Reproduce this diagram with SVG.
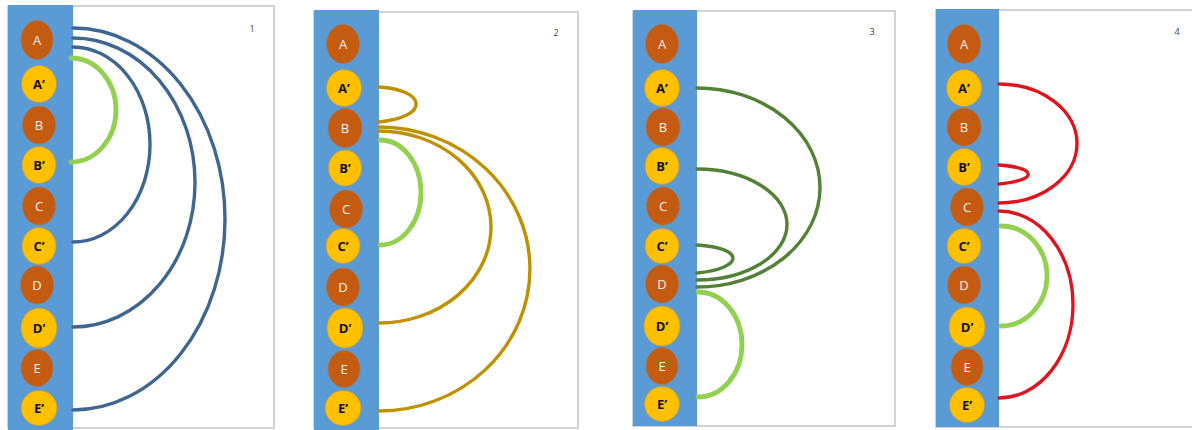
<svg xmlns="http://www.w3.org/2000/svg" width="1192" height="430" viewBox="0 0 1192 430">
<style>
.frame{fill:#ffffff;stroke:#c3c3c3;stroke-width:1.5}
.bar{fill:#5b9bd5}
.o{fill:#c55a11;stroke:#9a7b5a;stroke-width:0.8}
.y{fill:#ffc000;stroke:#b89a55;stroke-width:0.8}
.tw{font-family:"Open Sans","Liberation Sans",sans-serif;font-size:13px;fill:#f4f0ea;text-anchor:middle}
.tb{font-family:"Open Sans","Liberation Sans",sans-serif;font-size:13px;font-weight:bold;fill:#111111;text-anchor:middle}
.num{font-family:"Open Sans","Liberation Sans",sans-serif;font-size:9px;fill:#404040;text-anchor:middle}
.c{fill:none;stroke-width:3.4;stroke-linecap:round}
.blue{stroke:#3f6690}
.gold{stroke:#bf9000}
.dg{stroke:#538135}
.red{stroke:#e0141c}
.lg{stroke:#92d050;stroke-width:4.8}
</style>
<rect width="1192" height="430" fill="#ffffff"/>
<g id="frames">
<rect class="frame" x="8" y="6" width="266" height="422"/>
<rect class="bar" x="8" y="5" width="65" height="425"/>
<rect class="frame" x="314" y="12" width="264" height="416"/>
<rect class="bar" x="314" y="10" width="65" height="420"/>
<rect class="frame" x="633" y="11" width="262" height="415"/>
<rect class="bar" x="633" y="10" width="64" height="416"/>
<rect class="frame" x="936" y="10" width="270" height="417"/>
<rect class="bar" x="936" y="9" width="63" height="418"/>
</g>
<g id="labels">
<text class="num" x="252" y="32">1</text>
<text class="num" x="556" y="36">2</text>
<text class="num" x="872" y="35">3</text>
<text class="num" x="1177" y="35">4</text>
</g>
<g id="connectors">
<path class="c blue" d="M73 28 A152 191 0 0 1 73 410"/>
<path class="c blue" d="M73 38 A122 144.5 0 0 1 73 327"/>
<path class="c blue" d="M73 47 A77 97.5 0 0 1 73 242"/>
<path class="c lg" d="M71 58 A45 52 0 0 1 71 162"/>
<path class="c gold" d="M379 87 C427 90 430 117 379 122"/>
<path class="c gold" d="M379 127 A151 142 0 0 1 379 411"/>
<path class="c gold" d="M379 131 A112 96 0 0 1 379 323"/>
<path class="c lg" d="M380 140 A41 52.5 0 0 1 380 245"/>
<path class="c dg" d="M697 88 A123 99.5 0 0 1 697 287"/>
<path class="c dg" d="M697 169 A90 55.5 0 0 1 697 280"/>
<path class="c dg" d="M697 245 C745 248 745 268 697 273"/>
<path class="c lg" d="M698 292 A44 52.5 0 0 1 698 397"/>
<path class="c red" d="M999 84 A78 59.5 0 0 1 999 203"/>
<path class="c red" d="M999 165 C1038 168 1038 180 999 184"/>
<path class="c red" d="M999 211 A74 93.5 0 0 1 999 398"/>
<path class="c lg" d="M1001 226 A46 50 0 0 1 1001 326"/>
</g>
<g id="p1-A"><ellipse class="o" cx="37" cy="40" rx="16" ry="19.5"/><text class="tw" x="37" y="44.5">A</text></g>
<g id="p1-A2"><ellipse class="y" cx="39" cy="84" rx="17.5" ry="18.5"/><text class="tb" x="39" y="88.5">A’</text></g>
<g id="p1-B"><ellipse class="o" cx="39" cy="125" rx="16.5" ry="19"/><text class="tw" x="39" y="129.5">B</text></g>
<g id="p1-B2"><ellipse class="y" cx="39" cy="165" rx="17" ry="18.5"/><text class="tb" x="39" y="169.5">B’</text></g>
<g id="p1-C"><ellipse class="o" cx="39" cy="206" rx="16.5" ry="19"/><text class="tw" x="39" y="210.5">C</text></g>
<g id="p1-C2"><ellipse class="y" cx="39" cy="246" rx="17" ry="18.5"/><text class="tb" x="39" y="250.5">C’</text></g>
<g id="p1-D"><ellipse class="o" cx="37" cy="285" rx="16.5" ry="19"/><text class="tw" x="37" y="289.5">D</text></g>
<g id="p1-D2"><ellipse class="y" cx="39" cy="328" rx="18" ry="20"/><text class="tb" x="39" y="332.5">D’</text></g>
<g id="p1-E"><ellipse class="o" cx="37" cy="368" rx="16" ry="18.5"/><text class="tw" x="37" y="372.5">E</text></g>
<g id="p1-E2"><ellipse class="y" cx="39" cy="408" rx="18" ry="17.5"/><text class="tb" x="39" y="412.5">E’</text></g>
<g id="p2-A"><ellipse class="o" cx="343" cy="44" rx="16.5" ry="19.5"/><text class="tw" x="343" y="48.5">A</text></g>
<g id="p2-A2"><ellipse class="y" cx="344" cy="88" rx="17.5" ry="18.5"/><text class="tb" x="344" y="92.5">A’</text></g>
<g id="p2-B"><ellipse class="o" cx="345" cy="128" rx="17" ry="19.5"/><text class="tw" x="345" y="132.5">B</text></g>
<g id="p2-B2"><ellipse class="y" cx="345" cy="168" rx="16.5" ry="18"/><text class="tb" x="345" y="172.5">B’</text></g>
<g id="p2-C"><ellipse class="o" cx="346" cy="209" rx="16.5" ry="19"/><text class="tw" x="346" y="213.5">C</text></g>
<g id="p2-C2"><ellipse class="y" cx="343" cy="246" rx="17" ry="17.5"/><text class="tb" x="343" y="250.5">C’</text></g>
<g id="p2-D"><ellipse class="o" cx="343" cy="287" rx="16.5" ry="19"/><text class="tw" x="343" y="291.5">D</text></g>
<g id="p2-D2"><ellipse class="y" cx="345" cy="328" rx="18" ry="20"/><text class="tb" x="345" y="332.5">D’</text></g>
<g id="p2-E"><ellipse class="o" cx="344" cy="369" rx="16" ry="18.5"/><text class="tw" x="344" y="373.5">E</text></g>
<g id="p2-E2"><ellipse class="y" cx="343" cy="408" rx="18" ry="17.5"/><text class="tb" x="343" y="412.5">E’</text></g>
<g id="p3-A"><ellipse class="o" cx="662" cy="44" rx="16.5" ry="19.5"/><text class="tw" x="662" y="48.5">A</text></g>
<g id="p3-A2"><ellipse class="y" cx="662" cy="88" rx="17.5" ry="18.5"/><text class="tb" x="662" y="92.5">A’</text></g>
<g id="p3-B"><ellipse class="o" cx="663" cy="127" rx="17" ry="19"/><text class="tw" x="663" y="131.5">B</text></g>
<g id="p3-B2"><ellipse class="y" cx="662" cy="166" rx="17" ry="18.5"/><text class="tb" x="662" y="170.5">B’</text></g>
<g id="p3-C"><ellipse class="o" cx="663" cy="206" rx="16.5" ry="19"/><text class="tw" x="663" y="210.5">C</text></g>
<g id="p3-C2"><ellipse class="y" cx="662" cy="246" rx="17" ry="17.5"/><text class="tb" x="662" y="250.5">C’</text></g>
<g id="p3-D"><ellipse class="o" cx="662" cy="284" rx="16.5" ry="19"/><text class="tw" x="662" y="288.5">D</text></g>
<g id="p3-D2"><ellipse class="y" cx="662" cy="326" rx="18" ry="20"/><text class="tb" x="662" y="330.5">D’</text></g>
<g id="p3-E"><ellipse class="o" cx="662" cy="366" rx="16" ry="18.5"/><text class="tw" x="662" y="370.5">E</text></g>
<g id="p3-E2"><ellipse class="y" cx="662" cy="404" rx="17.5" ry="17.5"/><text class="tb" x="662" y="408.5">E’</text></g>
<g id="p4-A"><ellipse class="o" cx="964" cy="44" rx="16.5" ry="19.5"/><text class="tw" x="964" y="48.5">A</text></g>
<g id="p4-A2"><ellipse class="y" cx="964" cy="88" rx="17.5" ry="18.5"/><text class="tb" x="964" y="92.5">A’</text></g>
<g id="p4-B"><ellipse class="o" cx="964" cy="127" rx="17" ry="19"/><text class="tw" x="964" y="131.5">B</text></g>
<g id="p4-B2"><ellipse class="y" cx="964" cy="167" rx="17" ry="18.5"/><text class="tb" x="964" y="171.5">B’</text></g>
<g id="p4-C"><ellipse class="o" cx="967" cy="207" rx="16.5" ry="19"/><text class="tw" x="967" y="211.5">C</text></g>
<g id="p4-C2"><ellipse class="y" cx="964" cy="246" rx="17" ry="17.5"/><text class="tb" x="964" y="250.5">C’</text></g>
<g id="p4-D"><ellipse class="o" cx="964" cy="285" rx="16.5" ry="19"/><text class="tw" x="964" y="289.5">D</text></g>
<g id="p4-D2"><ellipse class="y" cx="967" cy="327" rx="18" ry="20"/><text class="tb" x="967" y="331.5">D’</text></g>
<g id="p4-E"><ellipse class="o" cx="967" cy="367" rx="16" ry="18.5"/><text class="tw" x="967" y="371.5">E</text></g>
<g id="p4-E2"><ellipse class="y" cx="967" cy="405" rx="17.5" ry="17.5"/><text class="tb" x="967" y="409.5">E’</text></g>
</svg>
